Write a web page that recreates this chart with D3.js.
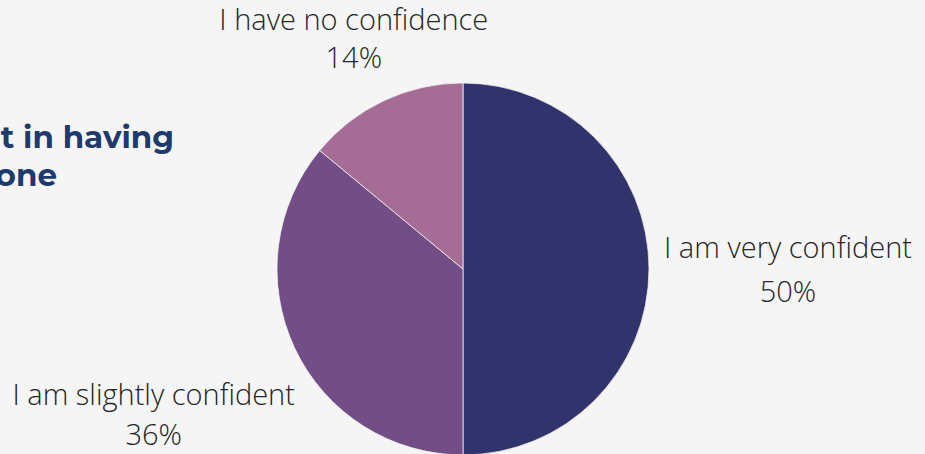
<!DOCTYPE html>
<html>
<head>
<meta charset="utf-8">
<script src="https://cdn.jsdelivr.net/npm/d3@7"></script>
<style>
  html, body { margin: 0; padding: 0; background: #f5f5f5; }
  svg { display: block; }
</style>
</head>
<body>
<svg id="chart" width="925" height="454"></svg>
<script>
// Survey answers and their shares (percent)
const categories = ["I am very confident", "I am slightly confident", "I have no confidence"];
const shares = [50, 36, 14];
const colors = ["#31346c", "#724d86", "#a56c95"];
const titleLines = ["Feeling confident in having", "at least one"];

const W = 925, H = 454;
const svg = d3.select("#chart");

svg.append("rect").attr("width", W).attr("height", H).attr("fill", "#f5f5f5");

// Title block, running off the left edge of the view
const titleEnds = [174, 57];
const title = svg.append("text")
  .attr("text-anchor", "end")
  .attr("font-family", "Montserrat, Lato, 'Open Sans', sans-serif")
  .attr("font-weight", 700)
  .attr("font-size", 31)
  .attr("fill", "#1f3a6c");
title.selectAll("tspan").data(titleLines).join("tspan")
  .attr("x", (d, i) => titleEnds[i])
  .attr("y", (d, i) => 148 + i * 38)
  .text(d => d);

const cx = 463, cy = 269, r = 186;
const g = svg.append("g").attr("transform", `translate(${cx},${cy})`);

const data = categories.map((c, i) => ({ name: c, value: shares[i], color: colors[i] }));
const pie = d3.pie().value(d => d.value).sort(null);
const arcs = pie(data);
const arc = d3.arc().innerRadius(0).outerRadius(r);

g.selectAll("path.slice").data(arcs).join("path")
  .attr("class", "slice")
  .attr("d", arc)
  .attr("fill", d => d.data.color)
  .attr("stroke", "#f5f5f5")
  .attr("stroke-width", 0.75);

// Outside-end labels: name on the first line, percent below.
// Each block is offset from the rim point at its slice's mid-angle.
const fontSize = 29;
const labelLayout = {
  "I am very confident":     { dx: 139, dy: 11, gap: 44 },
  "I am slightly confident": { dx: -141, dy: 77, gap: 40 },
  "I have no confidence":    { dx: -30, dy: -52, gap: 38 }
};

arcs.forEach(a => {
  const mid = (a.startAngle + a.endAngle) / 2;
  const px = Math.sin(mid) * r, py = -Math.cos(mid) * r;
  const L = labelLayout[a.data.name];
  const bx = px + L.dx, by = py + L.dy;
  const lab = g.append("text")
    .attr("text-anchor", "middle")
    .attr("font-family", "'Open Sans', sans-serif")
    .attr("font-weight", 300)
    .attr("font-size", fontSize)
    .attr("fill", "#262626");
  lab.selectAll("tspan")
    .data([a.data.name, d3.format(".0f")(a.data.value) + "%"])
    .join("tspan")
    .attr("x", bx)
    .attr("y", (d, i) => by - L.gap / 2 + i * L.gap)
    .text(d => d);
});
</script>
</body>
</html>
